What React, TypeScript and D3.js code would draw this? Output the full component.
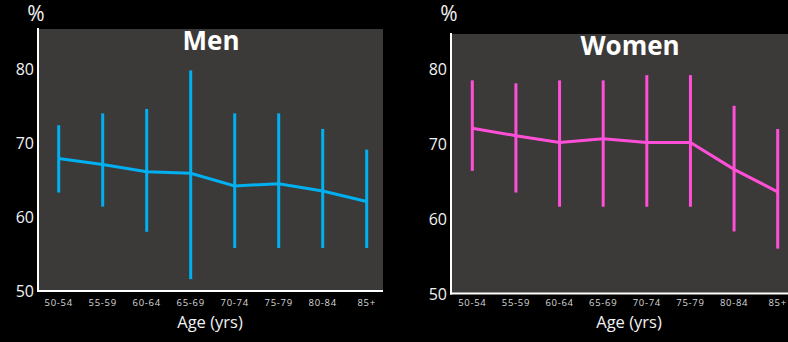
import React from 'react';
import * as d3 from 'd3';

// age groups shared by both panels
const ageGroups = ['50-54', '55-59', '60-64', '65-69', '70-74', '75-79', '80-84', '85+'];

// men: mean and range (%)
const menMean = [67.9, 67.1, 66.1, 65.9, 64.2, 64.5, 63.5, 62.1];
const menHigh = [72.4, 74.0, 74.6, 79.8, 74.0, 74.0, 71.9, 69.1];
const menLow = [63.3, 61.4, 58.0, 51.6, 55.8, 55.8, 55.8, 55.8];

// women: mean and range (%)
const womenMean = [72.1, 71.1, 70.2, 70.7, 70.2, 70.2, 66.6, 63.6];
const womenHigh = [78.5, 78.1, 78.5, 78.5, 79.2, 79.2, 75.1, 72.0];
const womenLow = [66.4, 63.5, 61.6, 61.6, 61.6, 61.6, 58.3, 56.0];

const yTicks = [50, 60, 70, 80];

const FONT = '"Open Sans", "DejaVu Sans", sans-serif';

type PanelProps = {
  title: string;
  color: string;
  mean: number[];
  high: number[];
  low: number[];
  left: number;
  right: number;
  top: number;
  bottom: number;
  yMax: number;
  firstX: number;
  lastX: number;
};

function Panel(props: PanelProps) {
  const { left, right, top, bottom } = props;

  const x = d3.scalePoint<string>().domain(ageGroups).range([props.firstX, props.lastX]);
  const y = d3.scaleLinear().domain([50, props.yMax]).range([bottom, top]);

  const rows = ageGroups.map((g, i) => ({
    group: g,
    mean: props.mean[i],
    high: props.high[i],
    low: props.low[i],
  }));

  const line = d3
    .line<{ group: string; mean: number }>()
    .x((d) => x(d.group) as number)
    .y((d) => y(d.mean));

  const centerX = (left + right) / 2;

  return (
    <g>
      {/* plot background */}
      <rect x={left} y={top} width={right - left} height={bottom - top} fill="#3b3a39" />

      {/* title */}
      <text
        x={centerX}
        y={top + 21}
        textAnchor="middle"
        fill="#ffffff"
        fontFamily={FONT}
        fontWeight={700}
        fontSize={26}
      >
        {props.title}
      </text>

      {/* error bars */}
      {rows.map((d) => (
        <line
          key={'e' + d.group}
          x1={x(d.group)}
          x2={x(d.group)}
          y1={y(d.high)}
          y2={y(d.low)}
          stroke={props.color}
          strokeWidth={3}
        />
      ))}

      {/* mean line */}
      <path d={line(rows) || ''} fill="none" stroke={props.color} strokeWidth={3} />

      {/* axes */}
      <line x1={left - 1} x2={left - 1} y1={top - 1} y2={bottom + 1} stroke="#ffffff" strokeWidth={2} />
      <line x1={left - 2} x2={right} y1={bottom} y2={bottom} stroke="#ffffff" strokeWidth={2} />

      {/* y ticks */}
      {yTicks.map((t) => (
        <text
          key={'y' + t}
          x={left - 5}
          y={y(t)}
          textAnchor="end"
          dominantBaseline="central"
          fill="#f2f2f2"
          fontFamily={FONT}
          fontSize={16}
        >
          {t}
        </text>
      ))}

      {/* % label */}
      <text
        x={left - 3}
        y={21}
        textAnchor="middle"
        fill="#f2f2f2"
        fontFamily={FONT}
        fontSize={21}
      >
        %
      </text>

      {/* x ticks */}
      {ageGroups.map((g) => (
        <text
          key={'x' + g}
          x={x(g)}
          y={306}
          textAnchor="middle"
          fill="#d9d9d9"
          fontFamily={FONT}
          fontSize={9.5}
          letterSpacing={0.7}
        >
          {g}
        </text>
      ))}

      {/* x axis title */}
      <text
        x={centerX - 1}
        y={328}
        textAnchor="middle"
        fill="#f2f2f2"
        fontFamily={FONT}
        fontSize={16.5}
      >
        Age (yrs)
      </text>
    </g>
  );
}

export default function App() {
  return (
    <svg
      width={788}
      height={342}
      style={{ position: 'absolute', left: 0, top: 0, background: '#000000' }}
    >
      <rect x={0} y={0} width={788} height={342} fill="#000000" />
      <Panel
        title="Men"
        color="#00b0f0"
        mean={menMean}
        high={menHigh}
        low={menLow}
        left={39}
        right={383}
        top={29}
        bottom={291}
        yMax={85.4}
        firstX={58.7}
        lastX={366.7}
      />
      <Panel
        title="Women"
        color="#ff4fd8"
        mean={womenMean}
        high={womenHigh}
        low={womenLow}
        left={452}
        right={808}
        top={34}
        bottom={293.5}
        yMax={84.7}
        firstX={472.3}
        lastX={777.7}
      />
    </svg>
  );
}
